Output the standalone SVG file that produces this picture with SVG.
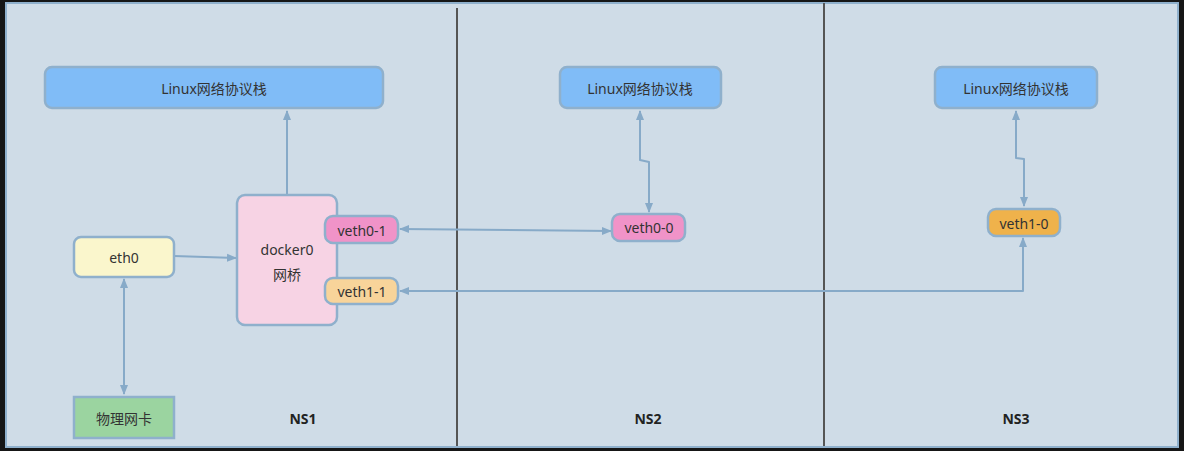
<svg xmlns="http://www.w3.org/2000/svg" width="1184" height="451" viewBox="0 0 1184 451">
<defs>
<style>
.nd{stroke:#8fb0cc;stroke-width:2.5}
.t{font-family:"Noto Sans","Noto Sans CJK SC",sans-serif;font-size:14px;fill:#333;text-anchor:middle;dominant-baseline:central}
.ns{font-family:"Noto Sans",sans-serif;font-size:14px;font-weight:bold;fill:#222;text-anchor:middle;dominant-baseline:central}
.c{fill:none;stroke:#87aac8;stroke-width:2;stroke-linejoin:round}
.div{stroke:#555;stroke-width:2}
</style>
<marker id="ah" viewBox="0 0 10 10" refX="9" refY="5" markerWidth="5" markerHeight="5" orient="auto-start-reverse" markerUnits="strokeWidth">
<path d="M0,1 L10,5 L0,9 z" fill="#87aac8"/>
</marker>
</defs>
<rect x="0" y="0" width="1184" height="451" fill="#161616"/>
<rect x="6" y="3" width="1172" height="444" fill="#cfdce7" stroke="#8fb0cc" stroke-width="2"/>
<line class="div" x1="457" y1="8" x2="457" y2="446"/>
<line class="div" x1="824" y1="3" x2="824" y2="446"/>

<g id="connectors">
<path class="c" d="M287,195 L287,111" marker-end="url(#ah)"/>
<path class="c" d="M174,256 L236,258" marker-end="url(#ah)"/>
<path class="c" d="M124,279 L124,394" marker-start="url(#ah)" marker-end="url(#ah)"/>
<path class="c" d="M400,229 L611,231" marker-start="url(#ah)" marker-end="url(#ah)"/>
<path class="c" d="M640,111 L640,160 L649,162 L649,212" marker-start="url(#ah)" marker-end="url(#ah)"/>
<path class="c" d="M1016,111 L1016,158 L1024,159 L1024,206" marker-start="url(#ah)" marker-end="url(#ah)"/>
<path class="c" d="M400,291 L1023,291 L1023,238" marker-start="url(#ah)" marker-end="url(#ah)"/>
</g>

<g id="linux1"><rect class="nd" x="45" y="67" width="338" height="41" rx="7" fill="#80bcf7"/><text class="t" x="214" y="88">Linux网络协议栈</text></g>
<g id="linux2"><rect class="nd" x="560" y="67" width="161" height="41" rx="7" fill="#80bcf7"/><text class="t" x="640" y="88">Linux网络协议栈</text></g>
<g id="linux3"><rect class="nd" x="935" y="67" width="162" height="41" rx="7" fill="#80bcf7"/><text class="t" x="1016" y="88">Linux网络协议栈</text></g>

<g id="docker0"><rect class="nd" x="237" y="195" width="100" height="130" rx="8" fill="#f7d3e4"/><text class="t" x="287" y="249">docker0</text><text class="t" x="287" y="274">网桥</text></g>
<g id="veth0-1"><rect class="nd" x="325" y="216" width="73" height="27" rx="8" fill="#f093c8"/><text class="t" x="362" y="230">veth0-1</text></g>
<g id="veth1-1"><rect class="nd" x="325" y="278" width="73" height="26" rx="8" fill="#f8d49a"/><text class="t" x="362" y="291">veth1-1</text></g>
<g id="eth0"><rect class="nd" x="74" y="237" width="100" height="40" rx="7" fill="#faf6cc"/><text class="t" x="124" y="257">eth0</text></g>
<g id="nic"><rect class="nd" x="74" y="397" width="100" height="41" fill="#9bd4a0"/><text class="t" x="124" y="418">物理网卡</text></g>
<g id="veth0-0"><rect class="nd" x="612" y="214" width="73" height="27" rx="8" fill="#f093c8"/><text class="t" x="649" y="227">veth0-0</text></g>
<g id="veth1-0"><rect class="nd" x="988" y="209" width="72" height="27" rx="8" fill="#efb24b"/><text class="t" x="1024" y="223">veth1-0</text></g>

<text class="ns" x="303" y="418">NS1</text>
<text class="ns" x="648" y="418">NS2</text>
<text class="ns" x="1016" y="418">NS3</text>
</svg>
